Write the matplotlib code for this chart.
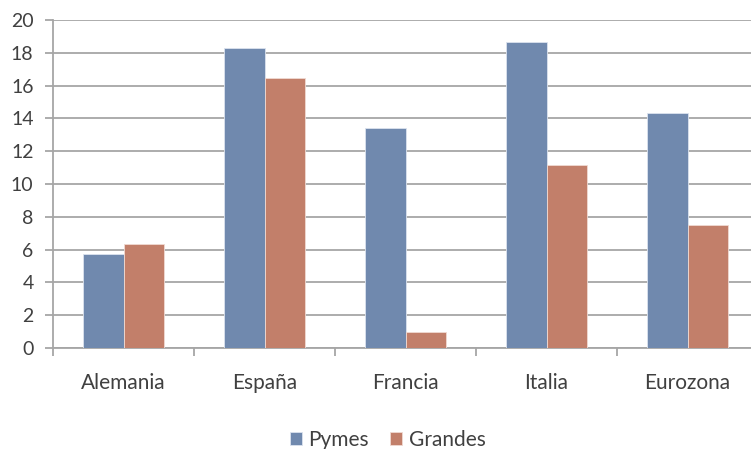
import matplotlib.pyplot as plt
import numpy as np

plt.rcParams['font.family'] = ['Lato', 'DejaVu Sans']

paises = ['Alemania', 'España', 'Francia', 'Italia', 'Eurozona']
pymes = [5.73, 18.27, 13.43, 18.68, 14.33]
grandes = [6.32, 16.48, 1.0, 11.16, 7.52]

color_pymes = '#7089AE'
color_grandes = '#C27F6A'
gris = '#A6A6A6'
texto = '#404040'

fig = plt.figure(figsize=(7.51, 4.49), dpi=100)
ax = fig.add_axes([53 / 751, 1 - 348 / 449, 705 / 751, 328 / 449])

x = np.arange(len(paises))
w = 0.284
ax.bar(x - w / 2, pymes, w, color=color_pymes, edgecolor='#DCE3EE', linewidth=0.6,
       label='Pymes', zorder=3)
ax.bar(x + w / 2, grandes, w, color=color_grandes, edgecolor='#F0DAD2', linewidth=0.6,
       label='Grandes', zorder=3)

ax.set_xlim(-0.5, len(paises) - 0.5)
ax.set_ylim(0, 20)
ax.set_yticks(range(0, 21, 2))
ax.yaxis.grid(True, color=gris, linewidth=1.3, zorder=0)
ax.set_axisbelow(True)

for s in ['top', 'right']:
    ax.spines[s].set_visible(False)
for s in ['left', 'bottom']:
    ax.spines[s].set_color(gris)
    ax.spines[s].set_linewidth(1.3)

ax.set_xticks(x)
ax.set_xticklabels(paises)
ax.set_xticks(np.arange(len(paises) + 1) - 0.5, minor=True)
ax.tick_params(axis='x', which='major', length=0, pad=18, labelsize=15, labelcolor=texto)
ax.tick_params(axis='x', which='minor', length=6, width=1.3, color=gris, direction='out')
ax.tick_params(axis='y', length=6, width=1.3, color=gris, pad=8, labelsize=14,
               labelcolor=texto)

fig.legend(loc='center', bbox_to_anchor=(0.516, 1 - 440 / 449), ncol=2, frameon=False,
           fontsize=15, handlelength=0.6, handleheight=0.6, handletextpad=0.3,
           columnspacing=1.0, labelcolor=texto)

fig.savefig('out.png', dpi=100)
